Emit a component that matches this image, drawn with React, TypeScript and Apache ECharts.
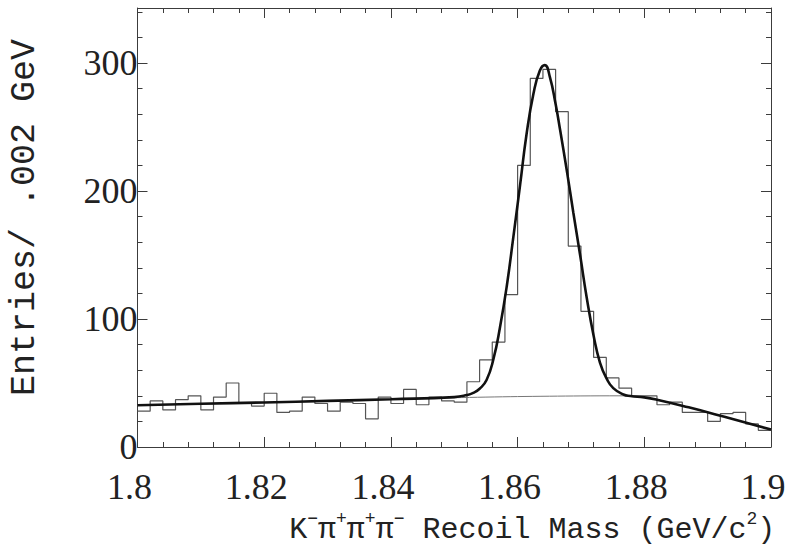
import React, { useEffect, useRef } from "react";
import * as echarts from "echarts";

// Binning of the recoil-mass histogram (GeV)
const BIN_START = 1.8;
const BIN_WIDTH = 0.002;

// Entries per 2 MeV bin from 1.800 to 1.900 GeV
const entries = [
  28, 36, 29, 37, 40, 29, 39, 50, 34, 32,
  42, 27, 28, 39, 34, 28, 35, 34, 22, 39,
  34, 45, 33, 39, 36, 35, 51, 68, 82, 119,
  220, 288, 295, 262, 157, 106, 70, 54, 46, 40,
  40, 33, 35, 27, 27, 20, 26, 27, 18, 13,
];

// Fitted curve (signal + background), sampled along the fit
const fitMass = [
  1.8, 1.81, 1.82, 1.83, 1.84, 1.85, 1.852, 1.853, 1.854, 1.8551,
  1.8562, 1.8572, 1.8583, 1.8593, 1.8604, 1.8614, 1.8625, 1.8635, 1.8643, 1.8651,
  1.866, 1.8667, 1.8678, 1.8688, 1.8699, 1.8709, 1.872, 1.873, 1.8741, 1.8751,
  1.8767, 1.8778, 1.88, 1.882, 1.887, 1.8925, 1.9,
];
const fitTotal = [
  32.6, 33.8, 34.8, 36.0, 37.3, 39.0, 40.6, 42.3, 45.5, 52.3,
  69, 93, 126, 163, 205, 244, 276, 294, 298.4, 289,
  268, 248, 215, 183, 149, 117, 87, 66, 53, 46,
  41, 39.8, 38.8, 37.0, 31.0, 23.8, 13.6,
];

// Background component of the fit
const bgMass = [1.8, 1.82, 1.84, 1.85, 1.86, 1.87, 1.876, 1.8785, 1.882, 1.887, 1.8925, 1.9];
const bgLevel = [32.6, 34.8, 37.3, 38.5, 39.4, 39.9, 40.0, 39.6, 37.0, 31.0, 23.8, 13.6];

// Axis ranges and tick steps
const X_MIN = 1.8;
const X_MAX = 1.9;
const X_STEP = 0.02;
const Y_MAX = 343;
const Y_MAJOR = 100;
const Y_MINOR = 20;

const INK = "#222";
const FRAME = "#3c3c3c";
const MONO = "'Liberation Mono', 'DejaVu Sans Mono', monospace";
const SERIF = "'Liberation Serif', 'DejaVu Serif', serif";

export default function App() {
  const ref = useRef<HTMLDivElement>(null);

  useEffect(() => {
    if (!ref.current) return;
    const chart = echarts.init(ref.current, null, { renderer: "svg" });

    const histData: [number, number][] = entries.map((v, i) => [
      +(BIN_START + i * BIN_WIDTH).toFixed(3),
      v,
    ]);
    histData.push([X_MAX, entries[entries.length - 1]]);

    const fitData = fitMass.map((m, i) => [m, fitTotal[i]]);
    const bgData = bgMass.map((m, i) => [m, bgLevel[i]]);

    const xBase = {
      type: "value" as const,
      min: X_MIN,
      max: X_MAX,
      interval: X_STEP,
      axisLine: { show: true, onZero: false, lineStyle: { color: FRAME, width: 1 } },
      axisTick: { show: true, inside: true, length: 10, lineStyle: { color: FRAME, width: 1 } },
      minorTick: { show: true, splitNumber: 5, length: 5, lineStyle: { color: FRAME, width: 1 } },
      splitLine: { show: false },
      minorSplitLine: { show: false },
    };

    const yBase = (interval: number, tickLen: number, position: "left" | "right", line: boolean) => ({
      type: "value" as const,
      min: 0,
      max: Y_MAX,
      interval,
      position,
      axisLine: { show: line, onZero: false, lineStyle: { color: FRAME, width: 1 } },
      axisTick: { show: true, inside: true, length: tickLen, lineStyle: { color: FRAME, width: 1 } },
      axisLabel: { show: false },
      splitLine: { show: false },
    });

    chart.setOption({
      animation: false,
      backgroundColor: "#ffffff",
      grid: {
        left: 137.5,
        right: 19,
        top: 8,
        bottom: 103,
        containLabel: false,
        outerBoundsMode: "none",
      },
      xAxis: [
        {
          ...xBase,
          position: "bottom",
          axisLabel: {
            show: true,
            margin: 22,
            color: INK,
            fontFamily: SERIF,
            fontSize: 36,
            padding: [0, 16, 0, 0],
          },
          name: "{m|K}{s|−}{m|π}{s|+}{m|π}{s|+}{m|π}{s|−}{m| Recoil Mass (GeV/c}{s|2}{m|)}",
          nameLocation: "middle",
          nameGap: 51,
          nameTextStyle: {
            verticalAlign: "top",
            padding: [0, 0, 0, 156],
            rich: {
              m: { fontFamily: MONO, fontSize: 30, lineHeight: 40, color: INK },
              s: { fontFamily: MONO, fontSize: 18, lineHeight: 18, color: INK, verticalAlign: "top" },
            },
          },
        },
        { ...xBase, position: "top", axisLabel: { show: false } },
      ],
      yAxis: [
        {
          ...yBase(Y_MAJOR, 10, "left", true),
          axisLabel: {
            show: true,
            showMaxLabel: false,
            margin: 0,
            color: INK,
            fontFamily: SERIF,
            fontSize: 36,
          },
          name: "Entries/ .002 GeV",
          nameLocation: "middle",
          nameGap: 95,
          nameTextStyle: { fontFamily: MONO, fontSize: 35, color: INK, padding: [0, 0, 0, 20] },
        },
        yBase(Y_MINOR, 5, "left", false),
        yBase(Y_MAJOR, 10, "right", true),
        yBase(Y_MINOR, 5, "right", false),
      ],
      series: [
        {
          type: "line",
          name: "Entries",
          data: histData,
          step: "end",
          symbol: "none",
          lineStyle: { color: "#555", width: 1.2 },
          z: 2,
        },
        {
          type: "line",
          name: "Background",
          data: bgData,
          smooth: 0.3,
          symbol: "none",
          lineStyle: { color: "#777", width: 1 },
          z: 3,
        },
        {
          type: "line",
          name: "Fit",
          data: fitData,
          smooth: 0.5,
          symbol: "none",
          lineStyle: { color: "#111", width: 2.6 },
          z: 4,
        },
      ],
    });

    return () => chart.dispose();
  }, []);

  return (
    <div
      ref={ref}
      style={{ position: "absolute", left: 0, top: 0, width: 790, height: 550, background: "#fff" }}
    />
  );
}
